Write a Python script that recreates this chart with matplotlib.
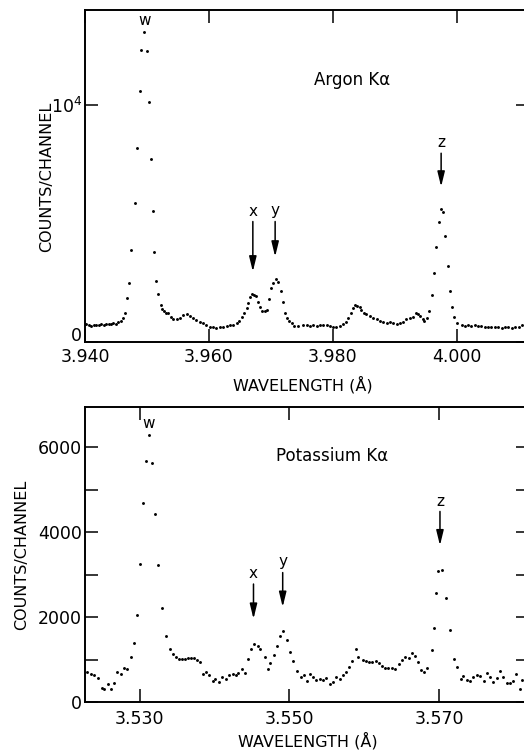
import matplotlib
matplotlib.use("Agg")
import matplotlib.pyplot as plt
from matplotlib.ticker import FixedLocator, MultipleLocator

plt.rcParams['font.family'] = ['DejaVu Sans']
plt.rcParams['mathtext.default'] = 'regular'

# Argon K-alpha spectrum (wavelength in Angstrom, counts per channel)
ar_wl = [3.9402, 3.9406, 3.9410, 3.9414, 3.9418, 3.9422, 3.9426, 3.9430, 3.9434, 3.9438,
         3.9442, 3.9446, 3.9450, 3.9454, 3.9458, 3.9462, 3.9465, 3.9468, 3.9471, 3.9475,
         3.9481, 3.9484, 3.9489, 3.9491, 3.9495, 3.9500, 3.9503, 3.9506, 3.9509, 3.9511,
         3.9515, 3.9518, 3.9523, 3.9525, 3.9528, 3.9531, 3.9534, 3.9539, 3.9542, 3.9548,
         3.9553, 3.9559, 3.9564, 3.9569, 3.9575, 3.9580, 3.9586, 3.9591, 3.9596, 3.9602,
         3.9607, 3.9612, 3.9618, 3.9623, 3.9629, 3.9634, 3.9639, 3.9645, 3.9648, 3.9653,
         3.9657, 3.9661, 3.9663, 3.9666, 3.9669, 3.9673, 3.9676, 3.9679, 3.9682, 3.9686,
         3.9690, 3.9694, 3.9697, 3.9700, 3.9704, 3.9708, 3.9711, 3.9716, 3.9719, 3.9723,
         3.9726, 3.9730, 3.9734, 3.9738, 3.9744, 3.9752, 3.9758, 3.9763, 3.9768, 3.9774,
         3.9779, 3.9784, 3.9790, 3.9795, 3.9800, 3.9806, 3.9811, 3.9817, 3.9821, 3.9825,
         3.9829, 3.9832, 3.9836, 3.9839, 3.9844, 3.9846, 3.9850, 3.9854, 3.9860, 3.9865,
         3.9871, 3.9876, 3.9881, 3.9887, 3.9892, 3.9897, 3.9903, 3.9908, 3.9913, 3.9919,
         3.9924, 3.9929, 3.9934, 3.9938, 3.9941, 3.9945, 3.9948, 3.9952, 3.9956, 3.9960,
         3.9963, 3.9967, 3.9972, 3.9974, 3.9978, 3.9982, 3.9986, 3.9990, 3.9992, 3.9996,
         4.0001, 4.0008, 4.0013, 4.0019, 4.0024, 4.0030, 4.0035, 4.0040, 4.0046, 4.0051,
         4.0056, 4.0062, 4.0067, 4.0073, 4.0078, 4.0083, 4.0089, 4.0094, 4.0100, 4.0105,
         4.0110]
ar_counts = [760, 700, 690, 720, 730, 720, 740, 730, 760, 770,
             750, 800, 780, 850, 900, 1000, 1210, 1843, 2503, 3882,
             5852, 8187, 10592, 12293, 13070, 12280, 10141, 7737, 5541, 3811,
             2588, 2012, 1561, 1410, 1325, 1237, 1210, 1070, 985, 957,
             1013, 1125, 1167, 1098, 1000, 928, 830, 788, 717, 647,
             619, 590, 619, 647, 675, 717, 703, 815, 900, 1070,
             1237, 1448, 1660, 1913, 2012, 1970, 1955, 1702, 1490, 1307,
             1307, 1350, 1800, 2265, 2505, 2660, 2518, 2138, 1687, 1237,
             1000, 886, 788, 675, 690, 700, 717, 690, 700, 690,
             730, 700, 730, 690, 640, 650, 680, 760, 857, 1000,
             1210, 1420, 1561, 1530, 1470, 1350, 1210, 1180, 1098, 1000,
             957, 900, 858, 788, 830, 815, 760, 788, 858, 970,
             1000, 1070, 1210, 1170, 1098, 957, 900, 1000, 1322, 1970,
             2898, 4022, 5077, 5600, 5473, 4486, 3207, 2166, 1491, 1069,
             788, 700, 690, 720, 680, 700, 660, 690, 640, 620,
             650, 620, 640, 600, 620, 630, 600, 620, 650, 700,
             690]

# Potassium K-alpha spectrum
k_wl = [3.5230, 3.5235, 3.5239, 3.5244, 3.5250, 3.5252, 3.5258, 3.5262, 3.5266, 3.5270,
        3.5275, 3.5279, 3.5283, 3.5288, 3.5292, 3.5296, 3.5300, 3.5304, 3.5308, 3.5312,
        3.5316, 3.5321, 3.5325, 3.5330, 3.5335, 3.5340, 3.5344, 3.5348, 3.5352, 3.5356,
        3.5360, 3.5364, 3.5368, 3.5372, 3.5376, 3.5380, 3.5384, 3.5389, 3.5393, 3.5398,
        3.5401, 3.5406, 3.5410, 3.5415, 3.5419, 3.5424, 3.5428, 3.5431, 3.5436, 3.5440,
        3.5444, 3.5449, 3.5453, 3.5458, 3.5461, 3.5467, 3.5471, 3.5474, 3.5479, 3.5484,
        3.5488, 3.5492, 3.5497, 3.5501, 3.5505, 3.5510, 3.5516, 3.5519, 3.5523, 3.5528,
        3.5532, 3.5536, 3.5541, 3.5545, 3.5549, 3.5554, 3.5558, 3.5562, 3.5567, 3.5571,
        3.5575, 3.5580, 3.5584, 3.5589, 3.5592, 3.5598, 3.5602, 3.5606, 3.5610, 3.5615,
        3.5619, 3.5624, 3.5628, 3.5632, 3.5637, 3.5641, 3.5646, 3.5650, 3.5654, 3.5659,
        3.5663, 3.5668, 3.5672, 3.5676, 3.5680, 3.5684, 3.5690, 3.5693, 3.5696, 3.5699,
        3.5704, 3.5709, 3.5714, 3.5720, 3.5724, 3.5729, 3.5732, 3.5737, 3.5741, 3.5745,
        3.5750, 3.5755, 3.5760, 3.5764, 3.5768, 3.5772, 3.5777, 3.5781, 3.5785, 3.5790,
        3.5794, 3.5799, 3.5803, 3.5808, 3.5811]
k_counts = [712, 658, 634, 556, 321, 313, 423, 306, 447, 712,
            658, 799, 768, 1050, 1394, 2045, 3259, 4684, 5687, 6290,
            5624, 4434, 3220, 2225, 1558, 1261, 1128, 1050, 1010, 1010,
            1018, 1026, 1042, 1026, 987, 932, 658, 712, 634, 501,
            548, 477, 580, 533, 634, 658, 634, 689, 768, 674,
            1003, 1238, 1379, 1316, 1261, 1050, 768, 909, 1104, 1316,
            1551, 1676, 1473, 1183, 971, 736, 595, 642, 501, 650,
            580, 517, 540, 517, 572, 423, 477, 580, 533, 634,
            712, 815, 963, 1238, 1050, 987, 963, 940, 948, 971,
            909, 846, 807, 791, 791, 768, 893, 987, 1050, 1042,
            1144, 1081, 948, 752, 697, 807, 1222, 1747, 2569, 3079,
            3118, 2452, 1708, 1003, 815, 533, 611, 517, 501, 595,
            642, 618, 501, 674, 595, 477, 556, 736, 580, 439,
            439, 501, 658, 298, 517]

fig = plt.figure(figsize=(5.24, 7.51), dpi=100)
# right spine sits just past the canvas edge, as in the cropped original
ax1 = fig.add_axes([0.1622, 0.5446, 0.8475, 0.4421])
ax2 = fig.add_axes([0.1622, 0.0652, 0.8475, 0.3928])

arrow = dict(arrowstyle='-|>,head_length=0.9,head_width=0.22', color='black',
             lw=1.1, shrinkA=0, shrinkB=0)

for ax in (ax1, ax2):
    for s in ax.spines.values():
        s.set_linewidth(1.4)
    ax.tick_params(which='both', direction='in', top=True, right=True,
                   length=9.5, width=1.1, labelsize=12.5)

# ---- top panel: argon ----
ax1.plot(ar_wl, ar_counts, 'o', color='black', markersize=2.1, markeredgewidth=0)
ax1.set_xlim(3.940, 4.0117)
ax1.set_ylim(0, 14000)
ax1.xaxis.set_major_locator(FixedLocator([3.940, 3.960, 3.980, 4.000]))
ax1.set_xticklabels(['3.940', '3.960', '3.980', '4.000'])
ax1.yaxis.set_major_locator(FixedLocator([0, 10000]))
ax1.set_yticklabels(['', '$10^4$'])
ax1.tick_params(axis='x', pad=4.5)
ax1.tick_params(axis='y', pad=2)
# the zero label sits a little above the corner, clear of "3.940"
ax1.annotate('0', xy=(0, 0), xycoords='axes fraction', xytext=(-2, 4),
             textcoords='offset points', ha='right', va='center', fontsize=12.5)

ax1.text(3.9832, 11050, 'Argon K\u03b1', fontsize=12, ha='center', va='center')
ax1.text(3.9496, 13550, 'w', fontsize=11, ha='center', va='center')
ax1.text(3.9671, 5500, 'x', fontsize=11, ha='center', va='center')
ax1.text(3.9706, 5550, 'y', fontsize=11, ha='center', va='center')
ax1.text(3.9975, 8420, 'z', fontsize=11, ha='center', va='center')
ax1.annotate('', xy=(3.9671, 2970), xytext=(3.9671, 5080), arrowprops=arrow)
ax1.annotate('', xy=(3.9707, 3600), xytext=(3.9707, 5080), arrowprops=arrow)
ax1.annotate('', xy=(3.9975, 6550), xytext=(3.9975, 7960), arrowprops=arrow)

ax1.text(0.491, -0.128, 'WAVELENGTH (\u00c5)', transform=ax1.transAxes,
         fontsize=11.5, ha='center', va='center')
ax1.text(-0.086, 0.497, 'COUNTS/CHANNEL', transform=ax1.transAxes,
         fontsize=11.5, ha='center', va='center', rotation=90)

# ---- bottom panel: potassium ----
ax2.plot(k_wl, k_counts, 'o', color='black', markersize=2.1, markeredgewidth=0)
ax2.set_xlim(3.5227, 3.5820)
ax2.set_ylim(0, 6950)
ax2.xaxis.set_major_locator(FixedLocator([3.530, 3.550, 3.570]))
ax2.set_xticklabels(['3.530', '3.550', '3.570'])
ax2.yaxis.set_major_locator(MultipleLocator(2000))
ax2.yaxis.set_minor_locator(MultipleLocator(1000))
ax2.tick_params(axis='x', pad=6)
ax2.tick_params(axis='y', pad=2)

ax2.text(3.5557, 5800, 'Potassium K\u03b1', fontsize=12, ha='center', va='center')
ax2.text(3.5312, 6560, 'w', fontsize=11, ha='center', va='center')
ax2.text(3.5452, 3020, 'x', fontsize=11, ha='center', va='center')
ax2.text(3.5491, 3310, 'y', fontsize=11, ha='center', va='center')
ax2.text(3.5701, 4730, 'z', fontsize=11, ha='center', va='center')
ax2.annotate('', xy=(3.5452, 1960), xytext=(3.5452, 2780), arrowprops=arrow)
ax2.annotate('', xy=(3.5491, 2240), xytext=(3.5491, 3050), arrowprops=arrow)
ax2.annotate('', xy=(3.5701, 3690), xytext=(3.5701, 4490), arrowprops=arrow)

ax2.text(0.502, -0.13, 'WAVELENGTH (\u00c5)', transform=ax2.transAxes,
         fontsize=11.5, ha='center', va='center')
ax2.text(-0.1425, 0.498, 'COUNTS/CHANNEL', transform=ax2.transAxes,
         fontsize=11.5, ha='center', va='center', rotation=90)

fig.savefig('out.png', dpi=100)
